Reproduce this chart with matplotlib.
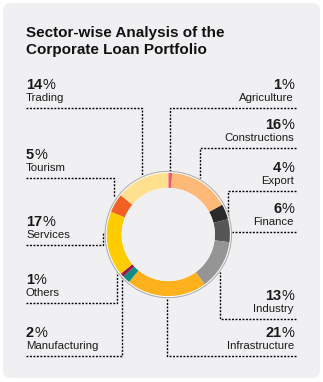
"""
Sector-wise breakdown of the corporate loan portfolio as a donut chart
with dashed leader lines to labels on both sides.
"""

import matplotlib
matplotlib.use("Agg")
import matplotlib.pyplot as plt
from matplotlib.patches import FancyBboxPatch, Circle

plt.rcParams['font.family'] = ['Liberation Sans', 'DejaVu Sans']

# data, clockwise from 12 o'clock
sectors = ['Agriculture', 'Constructions', 'Export', 'Finance', 'Industry',
           'Infrastructure', 'Manufacturing', 'Others', 'Services', 'Tourism',
           'Trading']
shares = [1, 16, 4, 6, 13, 21, 2, 1, 17, 5, 14]
colors = ['#ee5a6f', '#feb877', '#2a2a2a', '#565656', '#959595', '#fdb11c',
          '#0e8c86', '#9e1450', '#ffcc00', '#f26122', '#ffe08f']
title_lines = ['Sector-wise Analysis of the', 'Corporate Loan Portfolio']

# layout (pixels): label side, y of the dashed rule, leader path to the ring
LEFT_X, RIGHT_X, RULE_R = 26, 294, 296
leaders = {
    'Trading':        ('left', 108, [(142, 108), (142, 176)]),
    'Tourism':        ('left', 178, [(114, 178), (114, 197)]),
    'Services':       ('left', 245, [(103, 245), (103, 232)]),
    'Others':         ('left', 303, [(117, 303), (117, 272)]),
    'Manufacturing':  ('left', 356, [(122, 356), (122, 277)]),
    'Agriculture':    ('right', 108, [(170, 108), (170, 172)]),
    'Constructions':  ('right', 148, [(200, 148), (200, 178)]),
    'Export':         ('right', 191, [(228, 191), (228, 218)]),
    'Finance':        ('right', 232, [(232, 232)]),
    'Industry':       ('right', 319, [(220, 319), (220, 272)]),
    'Infrastructure': ('right', 356, [(167, 356), (167, 298)]),
}

W, H = 323, 382
fig = plt.figure(figsize=(W / 100, H / 100), dpi=100, facecolor='white')
ax = fig.add_axes([0, 0, 1, 1])
ax.set_xlim(0, W)
ax.set_ylim(H, 0)
ax.axis('off')

# rounded grey panel
ax.add_patch(FancyBboxPatch((3, 3), W - 6, H - 7,
                            boxstyle='round,pad=0,rounding_size=8',
                            facecolor='#f0f0f2', edgecolor='none'))

for i, line in enumerate(title_lines):
    ax.text(LEFT_X, 37 + 17 * i, line, fontsize=11, fontweight='bold',
            color='#111111', va='baseline', ha='left')

PCT_SIZE, NAME_SIZE = 10.5, 8.2
txt_col = '#1a1a1a'
dash = (0, (1.4, 1.1))
for name, share in zip(sectors, shares):
    side, y, path = leaders[name]
    # percentage: bold digits, regular % sign
    if side == 'left':
        num = ax.text(LEFT_X, y - 19, str(share), fontsize=PCT_SIZE,
                      fontweight='bold', color=txt_col, ha='left', va='baseline')
        ax.annotate('%', xy=(1, 0), xycoords=num, fontsize=PCT_SIZE,
                    color=txt_col, ha='left', va='bottom')
        ax.text(LEFT_X, y - 7, name, fontsize=NAME_SIZE, color=txt_col,
                ha='left', va='baseline')
        x0 = LEFT_X
    else:
        pct = ax.text(RIGHT_X, y - 19, '%', fontsize=PCT_SIZE, color=txt_col,
                      ha='right', va='baseline')
        ax.annotate(str(share), xy=(0, 0), xycoords=pct, fontsize=PCT_SIZE,
                    fontweight='bold', color=txt_col, ha='right', va='bottom')
        ax.text(RIGHT_X, y - 7, name, fontsize=NAME_SIZE, color=txt_col,
                ha='right', va='baseline')
        x0 = RULE_R
    xs = [x0] + [p[0] for p in path]
    ys = [y] + [p[1] for p in path]
    ax.plot(xs, ys, color='black', lw=1.0, linestyle=dash)

# donut
cx, cy, r_out, r_in, half = 168.3, 234.5, 61.6, 46.6, 66
axd = fig.add_axes([(cx - half) / W, (H - cy - half) / H, 2 * half / W, 2 * half / H])
axd.add_patch(Circle((0, 0), 63.2, facecolor='#fafafa', edgecolor='#a8a8a8',
                     lw=0.7, zorder=0))
axd.pie(shares, colors=colors, radius=r_out, startangle=90, counterclock=False,
        wedgeprops=dict(width=r_out - r_in, edgecolor='none'))
axd.add_patch(Circle((0, 0), r_in, facecolor='#f0f0f2', edgecolor='none', zorder=5))
axd.set_xlim(-half, half)
axd.set_ylim(-half, half)
axd.set_aspect('equal')
axd.axis('off')

fig.savefig('out.png', dpi=100, facecolor='white')
